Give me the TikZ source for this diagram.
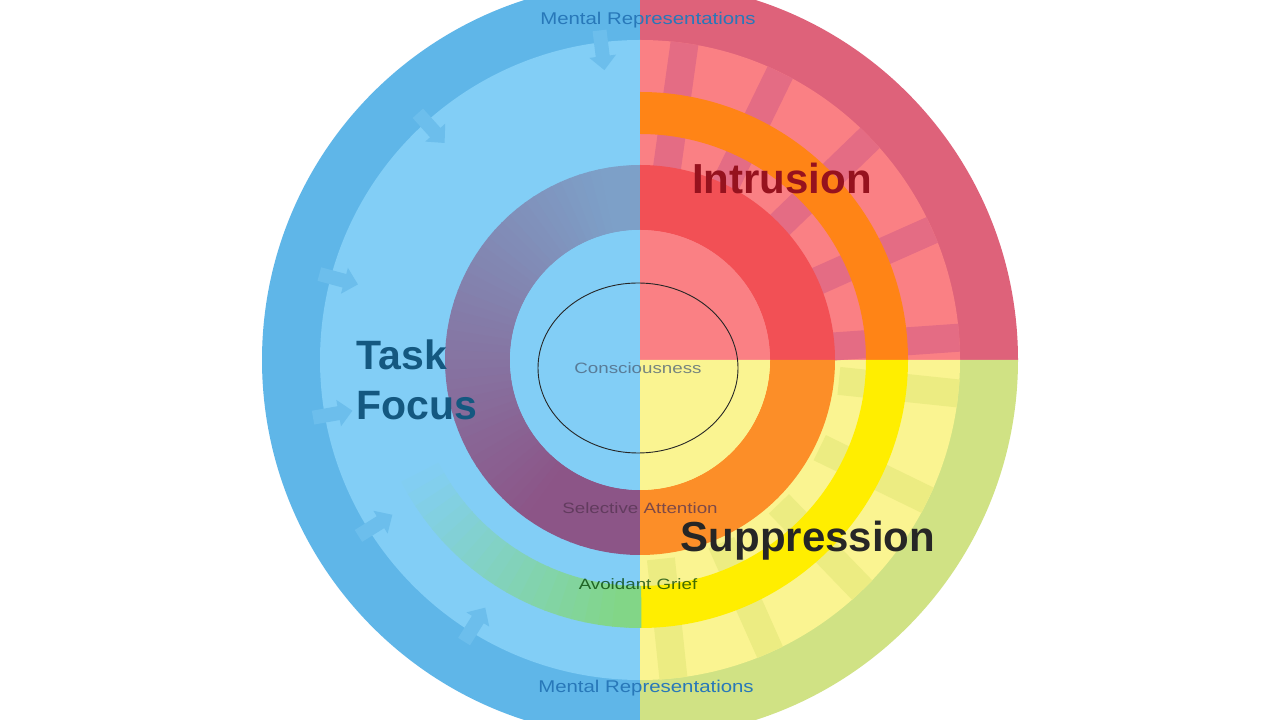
\documentclass[tikz,border=0pt]{standalone}
\usepackage{fontspec}
\setmainfont{Liberation Sans}
\usetikzlibrary{arrows.meta,shapes.geometric}
\definecolor{bOut}{RGB}{95,182,232}
\definecolor{bIn}{RGB}{130,206,246}
\definecolor{rOut}{RGB}{222,98,122}
\definecolor{rIn}{RGB}{250,128,132}
\definecolor{gOut}{RGB}{208,226,132}
\definecolor{gIn}{RGB}{250,244,145}
\definecolor{orng}{RGB}{255,132,22}
\definecolor{yel}{RGB}{255,238,0}
\definecolor{grn}{RGB}{130,214,135}
\definecolor{purp}{RGB}{140,85,135}
\definecolor{bgray}{RGB}{125,160,200}
\definecolor{selR}{RGB}{242,80,85}
\definecolor{selO}{RGB}{252,142,40}
\definecolor{rSpoke}{RGB}{228,108,132}
\definecolor{ySpoke}{RGB}{236,236,130}
\definecolor{bArr}{RGB}{108,190,236}
\definecolor{mrText}{RGB}{40,120,185}
\definecolor{tfText}{RGB}{20,88,128}
\definecolor{inText}{RGB}{150,18,30}
\tikzset{
  label/.style={font=\fontsize{17}{19}\selectfont, text=mrText, xscale=1.2},
  small/.style={font=\fontsize{15}{17}\selectfont, text opacity=0.75, xscale=1.25},
  big/.style={font=\fontsize{42}{48}\selectfont\bfseries, align=left}
}
\newcommand{\annsec}[5]{% color, a1, a2, r1, r2
  \fill[#1] (#2:#4) arc[start angle=#2,end angle=#3,radius=#4] -- (#3:#5) arc[start angle=#3,end angle=#2,radius=#5] -- cycle;}
\begin{document}
\begin{tikzpicture}[x=1pt,y=1pt]
\fill[white] (0,0) rectangle (1280,720);
\useasboundingbox (0,0) rectangle (1280,720);
\clip (0,0) rectangle (1280,720);
\begin{scope}[shift={(640,360)}]
\fill[bOut] (0,0) -- (90:378) arc[start angle=90,end angle=270,radius=378] -- cycle;
\fill[rOut] (0,0) -- (0:378) arc[start angle=0,end angle=90,radius=378] -- cycle;
\fill[gOut] (0,0) -- (-90:378) arc[start angle=-90,end angle=0,radius=378] -- cycle;
\fill[bIn] (0,0) -- (90:320) arc[start angle=90,end angle=270,radius=320] -- cycle;
\fill[rIn] (0,0) -- (0:320) arc[start angle=0,end angle=90,radius=320] -- cycle;
\fill[gIn] (0,0) -- (-90:320) arc[start angle=-90,end angle=0,radius=320] -- cycle;
\foreach \a in {4,24,44,64,82} {\draw[rSpoke,line width=28pt] (\a:320) -- (\a:150);}
\foreach \a in {-6,-26,-46,-66,-84} {\draw[ySpoke,line width=28pt] (\a:320) -- (\a:200);}
\foreach \a in {97,132,165,190,212,238} {\draw[bArr,line width=14pt,-{Triangle[length=14pt,width=26pt]}] (\a:332) -- (\a:292);}
\annsec{orng}{0}{90}{226}{268}
\annsec{yel}{-90}{0}{226}{268}
\foreach \a in {180,183,...,267} {
  \pgfmathsetmacro{\t}{max(0,min(100,(\a-205)*1.7))}
  \annsec{grn!\t!bIn}{\a}{\a+3.3}{226}{268}}
\foreach \a in {90,93,...,267} {
  \pgfmathsetmacro{\t}{max(0,min(100,(\a-100)*0.75))}
  \annsec{purp!\t!bgray}{\a}{\a+3.3}{130}{195}}
\annsec{selR}{0}{90}{130}{195}
\annsec{selO}{-90}{0}{130}{195}
\fill[bIn] (0,0) -- (90:130) arc[start angle=90,end angle=270,radius=130] -- cycle;
\fill[rIn] (0,0) -- (0:130) arc[start angle=0,end angle=90,radius=130] -- cycle;
\fill[gIn] (0,0) -- (-90:130) arc[start angle=-90,end angle=0,radius=130] -- cycle;
\node[draw=black!85,line width=0.9pt,ellipse,minimum width=200pt,minimum height=170pt] (cons) at (-2,-8) {};
\end{scope}
\node[small,text=bgray!60!black] (tcons) at (638,352) {Consciousness};
\node[small,text=purp!60!black] (tsel) at (640,212) {Selective Attention};
\node[small,text=green!25!black] (tav) at (638,136) {Avoidant Grief};
\node[label] (mrt) at (648,700) {Mental Representations};
\node[label] (mrb) at (646,32) {Mental Representations};
\node[big,text=inText] (intr) at (782,542) {Intrusion};
\node[big,text=tfText,font=\fontsize{41}{50}\selectfont\bfseries] (tf) at (417,340) {Task\\Focus};
\node[big,text=black!85] (supp) at (808,179) {Suppression};
\end{tikzpicture}
\end{document}
